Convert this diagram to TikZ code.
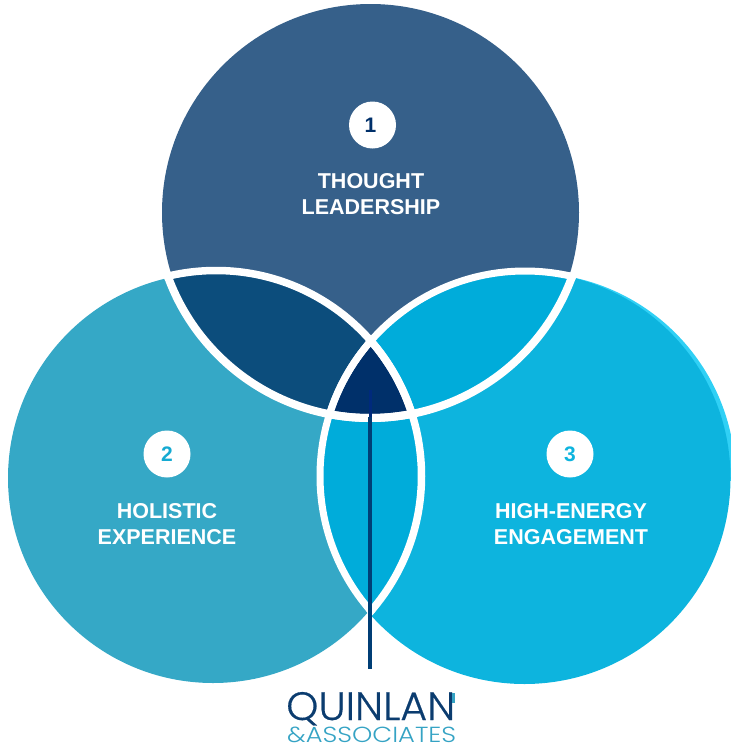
\documentclass[tikz,border=0pt]{standalone}
\usepackage{fontspec}
\setmainfont{Liberation Sans}
\newfontfamily\logofont{Poppins Light}[FakeBold=0.4]
\newfontfamily\logofontb{Poppins Light}
\definecolor{topc}{HTML}{36608A}
\definecolor{leftc}{HTML}{35A8C6}
\definecolor{rightc}{HTML}{0DB4DE}
\definecolor{rimc}{HTML}{30D0F5}
\definecolor{lenstl}{HTML}{0C4D7C}
\definecolor{lenstr}{HTML}{00ACDA}
\definecolor{lensb}{HTML}{00ACDA}
\definecolor{corec}{HTML}{00306A}
\definecolor{stemc}{HTML}{003E75}
\definecolor{logoa}{HTML}{0B3C6F}
\definecolor{logob}{HTML}{35A3C4}
\tikzset{
  badge/.style={circle,fill=white,minimum size=47pt,inner sep=0pt,font=\fontsize{21}{21}\selectfont\bfseries},
  lbl/.style={text=white,align=center,inner sep=0pt,font=\fontsize{21.5}{25.5}\selectfont\bfseries},
  logotext/.style={inner sep=0pt,anchor=base west},
  ringt/.style={white,line width=8pt},
  ringl/.style={white,line width=7.5pt},
  ringr/.style={white,line width=7pt}
}
\begin{document}
\begin{tikzpicture}[x=1pt,y=-1pt]
\useasboundingbox (0,0) rectangle (731,748);
\clip (0,0) rectangle (731,748);
% visible fills
\def\CT{(370.5,212.5) circle (208.5pt)}
\def\CL{(213,478) circle (205pt)}
\def\CR{(524.5,478) circle (206pt)}
% ring centre lines
\def\RT{(370,203) circle (215pt)}
\def\RL{(216,476) circle (205.5pt)}
\def\RR{(525,476) circle (205pt)}
% same rings, outer edges
\def\OT{(370,203) circle (219pt)}
\def\OL{(216,476) circle (209.25pt)}
\def\OR{(525,476) circle (208.5pt)}
% circles
\begin{scope}\clip (500,250) rectangle (731,480); \fill[rimc] (530.5,478) circle (205pt); \end{scope}
\fill[rightc] \CR;
\fill[leftc] \CL;
\fill[topc] \CT;
% lenses
\begin{scope}\clip \RT; \fill[lenstl] \RL; \end{scope}
\begin{scope}\clip \RT; \fill[lenstr] \RR; \end{scope}
\begin{scope}\clip \RL; \fill[lensb] \RR; \end{scope}
\begin{scope}\clip \RT; \clip \RL; \fill[corec] \RR; \end{scope}
% white rings, only where circles overlap
\begin{scope}\clip \OL; \draw[ringt] \RT; \end{scope}
\begin{scope}\clip \OR; \draw[ringt] \RT; \end{scope}
\begin{scope}\clip \OT; \draw[ringl] \RL; \end{scope}
\begin{scope}\clip \OR; \draw[ringl] \RL; \end{scope}
\begin{scope}\clip \OT; \draw[ringr] \RR; \end{scope}
\begin{scope}\clip \OL; \draw[ringr] \RR; \end{scope}
% stem
\coordinate (stemfaint) at (370,390);
\coordinate (stemtop) at (370,417);
\coordinate (stemend) at (370,669);
\draw[line width=3pt,color=corec!88!blue] (stemfaint) -- (stemtop);
\draw[line width=3.6pt,stemc] (stemtop) -- (stemend);
% badges
\node[badge,text=corec] (b1) at (372.5,125) {\hspace{-4pt}1};
\node[badge,text=leftc!40!lenstr] (b2) at (167,454) {2};
\node[badge,text=rightc] (b3) at (570,454) {3};
% labels
\node[lbl] (t1) at (371,194) {THOUGHT\\LEADERSHIP};
\node[lbl] (t2) at (167,524) {HOLISTIC\\EXPERIENCE};
\node[lbl] (t3) at (571,524) {HIGH-ENERGY\\ENGAGEMENT};
% logo
\node[logotext,text=logoa] (logo1) at (286,720) {\resizebox{169pt}{28pt}{\logofont QUINLAN}};
\node[logotext,text=logob] (logo2) at (287,742.5) {\resizebox{169pt}{15.5pt}{\logofontb \&ASSOCIATES}};
\fill[logob] (452,693) rectangle (455,703);
\end{tikzpicture}
\end{document}
